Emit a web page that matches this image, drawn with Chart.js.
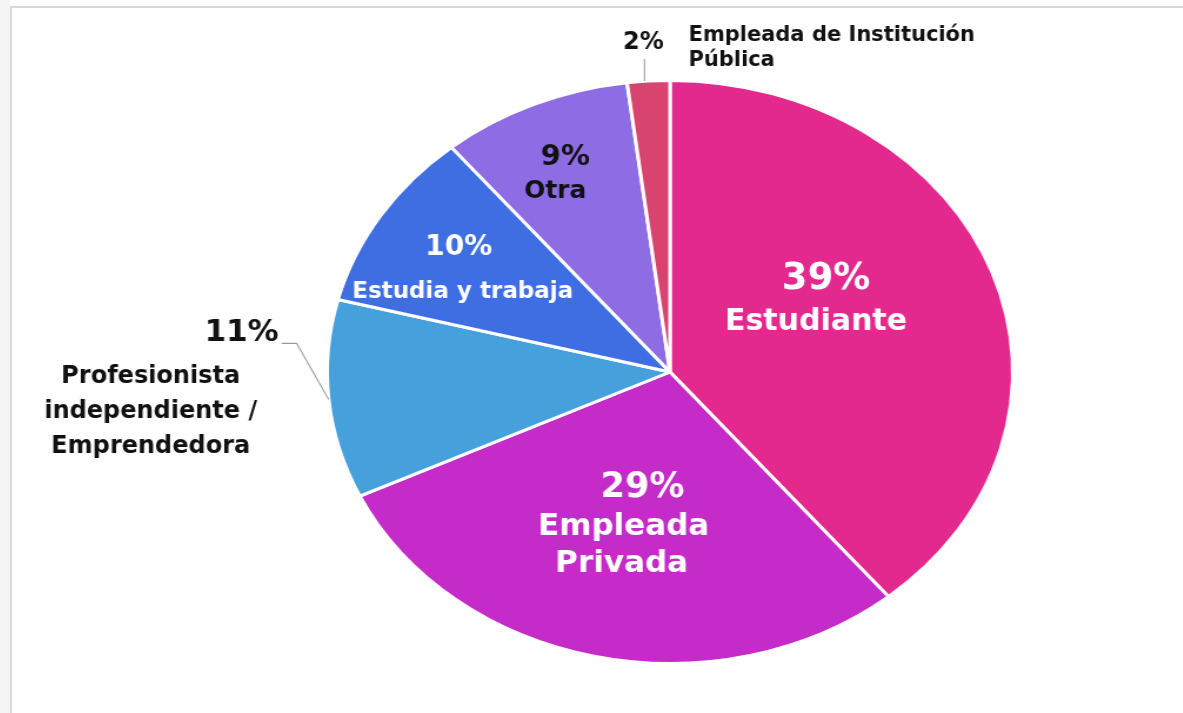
<!DOCTYPE html>
<html>
<head>
<meta charset="utf-8">
<script src="https://cdn.jsdelivr.net/npm/chart.js@4/dist/chart.umd.min.js"></script>
<style>
  html, body { margin: 0; padding: 0; background: #fff; }
  body { width: 1183px; height: 713px; overflow: hidden; position: relative; }
  #side { position: absolute; left: 0; top: 0; width: 10px; height: 713px; background: #f5f5f5; }
  #box { position: absolute; left: 10px; top: 6px; right: 0; bottom: 0; border-top: 2px solid #d8d8d8; border-left: 2px solid #d8d8d8; }
  /* la torta del original es ovalada: se estira el canvas en horizontal */
  #wrap { position: absolute; left: 0; top: 0; width: 1183px; height: 713px; transform: scaleX(1.176); transform-origin: 670px 0; }
</style>
</head>
<body>
<div id="side"></div>
<div id="box"></div>
<div id="wrap"><canvas id="pieChart"></canvas></div>
<script>
// datos
const categories = [
  ['Estudiante'],
  ['Empleada', 'Privada'],
  ['Profesionista', 'independiente /', 'Emprendedora'],
  ['Estudia y trabaja'],
  ['Otra'],
  ['Empleada de Institución', 'Pública']
];
const values = [39, 29, 11, 10, 9, 2];
const colors = ['#E3298E', '#C42BC8', '#45A0DC', '#3E6EE1', '#8E6CE3', '#D9436F'];

const SX = 1.176;
const FONT = '"DejaVu Sans", sans-serif';

// posicion de cada etiqueta (t = fraccion del angulo, f = fraccion del radio)
const labelLayout = [
  { t: 0.43, f: 0.5, color: '#fff', pctFont: 'bold 37px', nameFont: 'bold 30px',
    pctAt: [7, -21], nameAt: [[-3, 22]] },
  { t: 0.5, f: 0.54, color: '#fff', pctFont: 'bold 35px', nameFont: 'bold 31px',
    pctAt: [13, -38], nameAt: [[-6, 1], [-8, 38]] },
  { t: 0.5, f: 1, color: '#111', pctFont: 'bold 31px', nameFont: 'bold 24px',
    leader: [[0, 0], [-32, -56], [-47, -56]],
    pctAt: [-50, -66], pctAlign: 'right', nameAt: [[-178, -23], [-178, 12], [-178, 47]] },
  { t: 0.43, f: 0.704, color: '#fff', pctFont: 'bold 28px', nameFont: 'bold 23px',
    pctAt: [-2, -22], nameAt: [[2, 22]] },
  { t: 0.44, f: 0.748, color: '#111', pctFont: 'bold 29px', nameFont: 'bold 25px',
    pctAt: [5, -17], nameAt: [[-5, 17]] },
  { t: 0.5, f: 1, color: '#111', pctFont: 'bold 24px', nameFont: 'bold 21px',
    leader: [[-4, 0], [-4, -22]],
    pctAt: [-5, -38], nameAt: [[40, -46], [40, -21]], nameAlign: 'left' }
];

const pieLabels = {
  id: 'pieLabels',
  afterDatasetsDraw(chart) {
    const ctx = chart.ctx;
    const arcs = chart.getDatasetMeta(0).data;
    if (!arcs.length) return;
    const cx = arcs[0].x, cy = arcs[0].y;
    ctx.save();
    // deshacer el estiramiento para que el texto no se deforme
    ctx.translate(cx, 0);
    ctx.scale(1 / SX, 1);
    ctx.textBaseline = 'middle';
    arcs.forEach((arc, i) => {
      const L = labelLayout[i];
      const p = arc.getProps(['startAngle', 'endAngle', 'outerRadius'], true);
      const a = p.startAngle + (p.endAngle - p.startAngle) * L.t;
      const r = p.outerRadius * L.f;
      const x = Math.cos(a) * r * SX;
      const y = cy + Math.sin(a) * r;

      if (L.leader) {
        ctx.strokeStyle = '#9a9a9a';
        ctx.lineWidth = 1.2;
        ctx.beginPath();
        L.leader.forEach((pt, k) => {
          if (k === 0) ctx.moveTo(x + pt[0], y + pt[1]);
          else ctx.lineTo(x + pt[0], y + pt[1]);
        });
        ctx.stroke();
      }

      ctx.fillStyle = L.color;
      ctx.font = L.pctFont + ' ' + FONT;
      ctx.textAlign = L.pctAlign || 'center';
      ctx.fillText(values[i] + '%', x + L.pctAt[0], y + L.pctAt[1]);

      ctx.font = L.nameFont + ' ' + FONT;
      ctx.textAlign = L.nameAlign || 'center';
      categories[i].forEach((line, k) => {
        const off = L.nameAt[k];
        ctx.fillText(line, x + off[0], y + off[1]);
      });
    });
    ctx.restore();
  }
};

new Chart(document.getElementById('pieChart').getContext('2d'), {
  type: 'pie',
  data: {
    labels: categories.map(c => c.join(' ')),
    datasets: [{
      data: values,
      backgroundColor: colors,
      borderColor: '#ffffff',
      borderWidth: 3
    }]
  },
  options: {
    responsive: true,
    maintainAspectRatio: false,
    animation: false,
    layout: { padding: { top: 79, bottom: 48, left: 377, right: 220 } },
    plugins: {
      legend: { display: false },
      tooltip: { enabled: false }
    }
  },
  plugins: [pieLabels]
});
</script>
</body>
</html>
